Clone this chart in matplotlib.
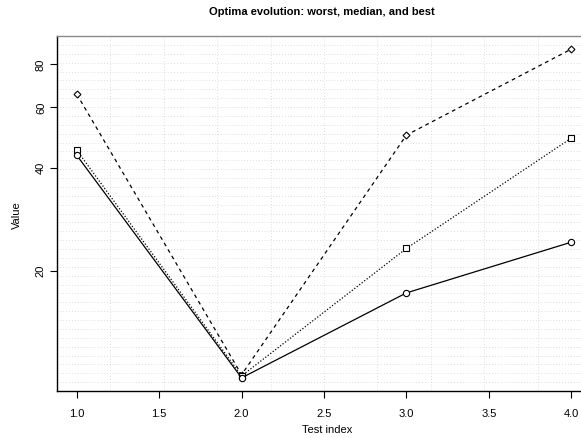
import numpy as np
import matplotlib
matplotlib.use("Agg")
import matplotlib.pyplot as plt
from matplotlib.ticker import FixedLocator, NullLocator, FixedFormatter

# Data
test_index = [1, 2, 3, 4]
worst = [65.5, 10.0, 49.8, 88.6]
median = [45.0, 9.92, 23.3, 48.8]
best = [43.5, 9.79, 17.3, 24.3]
y_ticks = [20, 40, 60, 80]
x_ticks = [1.0, 1.5, 2.0, 2.5, 3.0, 3.5, 4.0]

plt.rcParams['font.family'] = ['Liberation Sans', 'DejaVu Sans']

W, H = 581, 438
fig = plt.figure(figsize=(W / 100, H / 100), dpi=100)
# axes box: left 57px, top 36px, bottom 391px, right runs off the canvas (591px)
ax = fig.add_axes([57 / W, (H - 391) / H, (591 - 57) / W, (391 - 36) / H])

# background graph-paper grid (fixed divisions of the axes box)
grid_kw = dict(color='#d4d4d4', lw=0.6, ls=(0, (1, 2.5)), zorder=0,
               transform=ax.transAxes)
for k in range(1, 10):
    ax.plot([k / 10, k / 10], [0, 1], **grid_kw)
for k in range(1, 40):
    ax.plot([0, 1], [k / 40, k / 40], **grid_kw)

ax.plot(test_index, worst, color='black', lw=0.9, ls=(0, (3, 3)),
        marker='D', ms=3.5, mfc='white', mec='black', mew=0.8)
ax.plot(test_index, median, color='black', lw=0.9, ls=(0, (1, 1.5)),
        marker='s', ms=4, mfc='white', mec='black', mew=0.8)
ax.plot(test_index, best, color='black', lw=0.9, ls='-',
        marker='o', ms=4.5, mfc='white', mec='black', mew=0.8)

ax.set_yscale('log')
lo = np.log10(min(best))
hi = np.log10(max(worst))
pad = 0.04 * (hi - lo)
ax.set_ylim(10 ** (lo - pad), 10 ** (hi + pad))
ax.set_xlim(1 - 0.04 * 3, 4 + 0.04 * 3)

ax.yaxis.set_major_locator(FixedLocator(y_ticks))
ax.yaxis.set_major_formatter(FixedFormatter([str(v) for v in y_ticks]))
ax.yaxis.set_minor_locator(NullLocator())
ax.set_xticks(x_ticks)
ax.set_xticklabels([f"{v:.1f}" for v in x_ticks])

ax.tick_params(axis='both', direction='out', length=5, width=0.8,
               labelsize=8)
ax.tick_params(axis='x', pad=8)
ax.tick_params(axis='y', pad=3)
for lab in ax.get_yticklabels():
    lab.set_rotation(90)
    lab.set_va('center')

ax.spines['left'].set_linewidth(1.0)
ax.spines['bottom'].set_linewidth(1.0)
ax.spines['top'].set_color('#8a8a8a')
ax.spines['top'].set_linewidth(1.0)
ax.spines['right'].set_visible(False)

fig.text(327 / W, 1 - 430 / H, 'Test index', ha='center', va='center',
         fontsize=8)
fig.text(17 / W, 1 - 215 / H, 'Value', ha='center', va='center',
         fontsize=8, rotation=90)
fig.text(322 / W, 1 - 12 / H,
         'Optima evolution: worst, median, and best',
         ha='center', va='center', fontsize=8, fontweight='bold')

fig.savefig('out.png', dpi=100)
